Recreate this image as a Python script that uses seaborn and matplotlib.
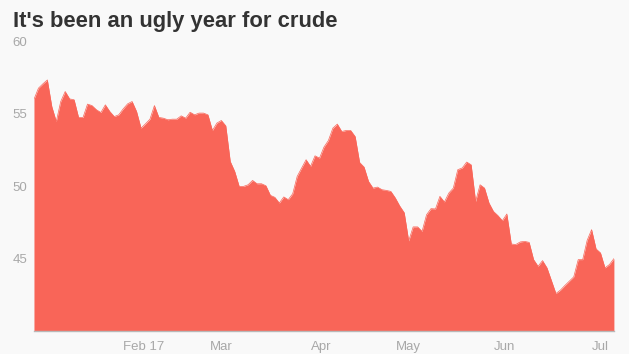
import matplotlib
matplotlib.use("Agg")
import matplotlib.pyplot as plt
import seaborn as sns
import numpy as np
import pandas as pd

# Daily crude price (trading days, late Dec 2016 - early Jul 2017)
prices = [
    56.0, 56.77, 57.07, 57.34, 55.5, 54.47, 55.85, 56.54, 56.03, 55.97,
    54.75, 54.75, 55.67, 55.57, 55.28, 55.09, 55.62, 55.16, 54.81, 54.93,
    55.34, 55.69, 55.85, 55.16, 54.01, 54.31, 54.63, 55.57, 54.75, 54.70,
    54.59, 54.63, 54.63, 54.86, 54.70, 55.11, 54.93, 55.05, 55.05, 54.93,
    53.85, 54.36, 54.54, 54.17, 51.71, 51.02, 49.99, 49.99, 50.10, 50.40,
    50.17, 50.17, 50.03, 49.37, 49.23, 48.84, 49.26, 49.07, 49.48, 50.68,
    51.26, 51.83, 51.37, 52.10, 51.94, 52.70, 53.16, 54.01, 54.29, 53.78,
    53.85, 53.85, 53.43, 51.64, 51.32, 50.33, 49.87, 49.94, 49.76, 49.71,
    49.64, 49.19, 48.63, 48.17, 46.22, 47.19, 47.19, 46.88, 48.03, 48.45,
    48.43, 49.30, 48.91, 49.53, 49.87, 51.14, 51.26, 51.67, 51.48, 48.95,
    50.10, 49.87, 48.84, 48.26, 47.97, 47.62, 48.08, 46.01, 45.97, 46.15,
    46.19, 46.12, 44.93, 44.47, 44.86, 44.36, 43.48, 42.59, 42.82, 43.14,
    43.44, 43.74, 44.93, 44.93, 46.26, 47.00, 45.67, 45.39, 44.36, 44.59,
    45.00,
]
day_index = list(range(len(prices)))

x_tick_labels = ["Feb 17", "Mar", "Apr", "May", "Jun", "Jul"]
x_tick_index = [24.5, 42, 64.5, 84, 105.5, 127]
y_ticks = [45, 50, 55, 60]

title = "It's been an ugly year for crude"

bg = "#f9f9f9"
fill_color = "#f96558"
label_color = "#a8a8a8"

sns.set_theme(style="white")
plt.rcParams["font.family"] = ["Liberation Sans", "DejaVu Sans"]

df = pd.DataFrame({"day": day_index, "price": prices})

fig = plt.figure(figsize=(6.29, 3.54), dpi=100, facecolor=bg)
ax = fig.add_axes([0.054, 0.065, 0.922, 0.818])
ax.set_facecolor(bg)

sns.lineplot(data=df, x="day", y="price", ax=ax, color=fill_color, linewidth=0.5, zorder=2)
ax.fill_between(df["day"], df["price"], 40, color=fill_color, linewidth=0, zorder=2.1)

ax.set_xlim(0, len(prices) - 1)
ax.set_ylim(40, 60)
ax.set_xticks(x_tick_index)
ax.set_xticklabels(x_tick_labels)
ax.set_yticks(y_ticks)
ax.set_yticklabels([str(v) for v in y_ticks])
ax.set_xlabel("")
ax.set_ylabel("")

for side in ["top", "right", "left"]:
    ax.spines[side].set_visible(False)
ax.spines["bottom"].set_color("#b8b8b8")
ax.spines["bottom"].set_linewidth(1.0)
ax.spines["bottom"].set_zorder(3)

ax.tick_params(axis="x", length=0, pad=7, labelsize=9.5, labelcolor=label_color)
ax.tick_params(axis="y", length=4, direction="inout", color="#dddddd", pad=3,
               labelsize=9.5, labelcolor=label_color)
ax.set_axisbelow(True)
ax.grid(False)

fig.text(0.021, 0.968, title, ha="left", va="top", fontsize=15.8, fontweight="bold",
         color="#333333", family=["Liberation Sans Narrow", "Liberation Sans", "DejaVu Sans"])

fig.savefig("out.png", dpi=100, facecolor=bg)
